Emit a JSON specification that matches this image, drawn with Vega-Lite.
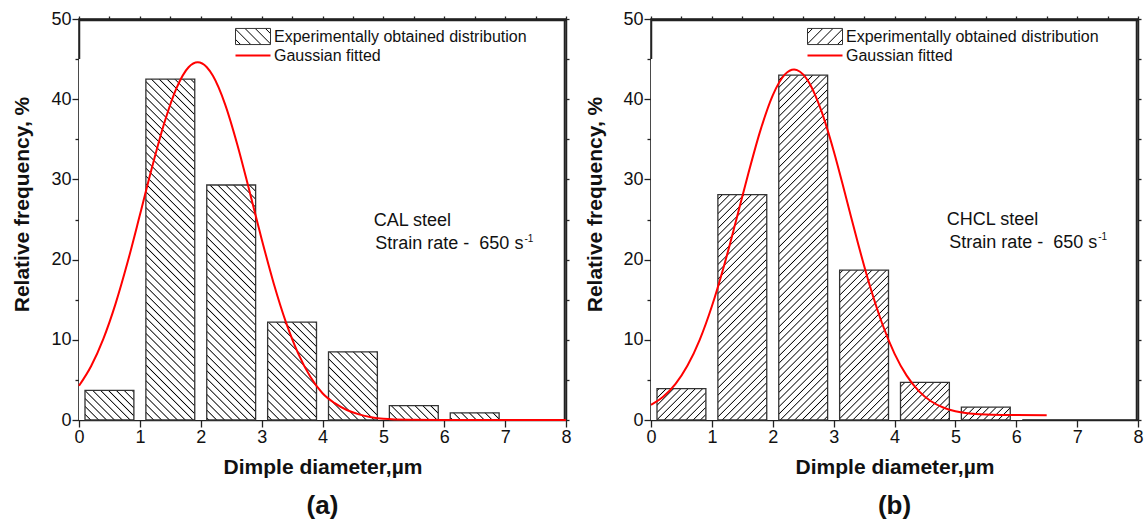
{
"$schema": "https://vega.github.io/schema/vega-lite/v6.json",
"background": "white",
"padding": {"left": 10, "top": 9, "right": 5, "bottom": 3},
"spacing": 11,
"config": {
  "view": {"stroke": "#222", "strokeWidth": 1.5},
  "axis": {"domainColor": "#222", "domainWidth": 1.5, "tickColor": "#222", "tickWidth": 1.3, "labelColor": "#111", "labelFont": "Liberation Sans", "labelFontSize": 18, "titleFont": "Liberation Sans", "titleFontSize": 21, "titleFontWeight": "bold", "titleColor": "#111", "grid": false, "zindex": 1, "labelPadding": 1, "labelFlush": false, "labelOverlap": false}
},
"datasets": {
  "barsA": [{"lo":0,"hi":1,"freq":3.7},{"lo":1,"hi":2,"freq":42.5},{"lo":2,"hi":3,"freq":29.3},{"lo":3,"hi":4,"freq":12.2},{"lo":4,"hi":5,"freq":8.5},{"lo":5,"hi":6,"freq":1.8},{"lo":6,"hi":7,"freq":0.9}],
  "barsB": [{"lo":0,"hi":1,"freq":3.9},{"lo":1,"hi":2,"freq":28.1},{"lo":2,"hi":3,"freq":43.0},{"lo":3,"hi":4,"freq":18.7},{"lo":4,"hi":5,"freq":4.7},{"lo":5,"hi":6,"freq":1.6}],
  "fitA": [{"x":0,"y":4.27},{"x":0.2,"y":6.74},{"x":0.4,"y":10.12},{"x":0.6,"y":14.48},{"x":0.8,"y":19.72},{"x":1.0,"y":25.55},{"x":1.2,"y":31.52},{"x":1.4,"y":37.0},{"x":1.6,"y":41.35},{"x":1.8,"y":43.98},{"x":1.95,"y":44.6},{"x":2.1,"y":43.98},{"x":2.2,"y":42.91},{"x":2.4,"y":39.36},{"x":2.6,"y":34.36},{"x":2.8,"y":28.55},{"x":3.0,"y":22.58},{"x":3.2,"y":17.0},{"x":3.4,"y":12.18},{"x":3.6,"y":8.31},{"x":3.8,"y":5.39},{"x":4.0,"y":3.33},{"x":4.2,"y":2.1},{"x":4.4,"y":1.25},{"x":4.6,"y":0.7},{"x":4.8,"y":0.35},{"x":5.0,"y":0.15},{"x":5.4,"y":0.03},{"x":6.0,"y":0},{"x":7.0,"y":0},{"x":8.0,"y":0}],
  "fitB": [{"x":0,"y":1.9},{"x":0.2,"y":2.9},{"x":0.4,"y":4.47},{"x":0.6,"y":6.79},{"x":0.8,"y":10.0},{"x":1.0,"y":14.18},{"x":1.2,"y":19.24},{"x":1.4,"y":24.93},{"x":1.6,"y":30.77},{"x":1.8,"y":36.18},{"x":2.0,"y":40.48},{"x":2.2,"y":43.09},{"x":2.35,"y":43.7},{"x":2.4,"y":43.63},{"x":2.6,"y":42.03},{"x":2.8,"y":38.51},{"x":3.0,"y":33.58},{"x":3.2,"y":27.87},{"x":3.4,"y":22.03},{"x":3.6,"y":16.61},{"x":3.8,"y":11.97},{"x":4.0,"y":8.28},{"x":4.2,"y":5.53},{"x":4.4,"y":3.6},{"x":4.6,"y":2.34},{"x":4.8,"y":1.56},{"x":5.0,"y":1.1},{"x":5.2,"y":0.85},{"x":5.4,"y":0.72},{"x":5.6,"y":0.65},{"x":6.0,"y":0.61},{"x":6.5,"y":0.6}]
},
"resolve": {"scale": {"x": "independent", "y": "independent", "stroke": "independent"}, "axis": {"x": "independent", "y": "independent"}, "legend": {"stroke": "independent"}},
"hconcat": [
{
  "width": 487, "height": 401,
  "title": {"text": "(a)", "orient": "bottom", "anchor": "middle", "frame": "group", "fontSize": 26, "fontWeight": "bold", "font": "Liberation Sans", "color": "#111", "offset": 16},
  "resolve": {"scale": {"x": "independent", "y": "independent"}},
  "layer": [
   {"layer": [
    {"data": {"values": [{}]},
     "mark": {"type": "rect", "strokeWidth": 0, "fill": {"gradient": "linear", "x1": 0, "y1": 1, "x2": 1.0755, "y2": 0.0891, "stops": [
{"offset":0.0035,"color":"#fff"},{"offset":0.005,"color":"#000"},{"offset":0.0065,"color":"#fff"},
{"offset":0.0135,"color":"#fff"},{"offset":0.015,"color":"#000"},{"offset":0.0165,"color":"#fff"},
{"offset":0.0235,"color":"#fff"},{"offset":0.025,"color":"#000"},{"offset":0.0265,"color":"#fff"},
{"offset":0.0335,"color":"#fff"},{"offset":0.035,"color":"#000"},{"offset":0.0365,"color":"#fff"},
{"offset":0.0435,"color":"#fff"},{"offset":0.045,"color":"#000"},{"offset":0.0465,"color":"#fff"},
{"offset":0.0535,"color":"#fff"},{"offset":0.055,"color":"#000"},{"offset":0.0565,"color":"#fff"},
{"offset":0.0635,"color":"#fff"},{"offset":0.065,"color":"#000"},{"offset":0.0665,"color":"#fff"},
{"offset":0.0735,"color":"#fff"},{"offset":0.075,"color":"#000"},{"offset":0.0765,"color":"#fff"},
{"offset":0.0835,"color":"#fff"},{"offset":0.085,"color":"#000"},{"offset":0.0865,"color":"#fff"},
{"offset":0.0935,"color":"#fff"},{"offset":0.095,"color":"#000"},{"offset":0.0965,"color":"#fff"},
{"offset":0.1035,"color":"#fff"},{"offset":0.105,"color":"#000"},{"offset":0.1065,"color":"#fff"},
{"offset":0.1135,"color":"#fff"},{"offset":0.115,"color":"#000"},{"offset":0.1165,"color":"#fff"},
{"offset":0.1235,"color":"#fff"},{"offset":0.125,"color":"#000"},{"offset":0.1265,"color":"#fff"},
{"offset":0.1335,"color":"#fff"},{"offset":0.135,"color":"#000"},{"offset":0.1365,"color":"#fff"},
{"offset":0.1435,"color":"#fff"},{"offset":0.145,"color":"#000"},{"offset":0.1465,"color":"#fff"},
{"offset":0.1535,"color":"#fff"},{"offset":0.155,"color":"#000"},{"offset":0.1565,"color":"#fff"},
{"offset":0.1635,"color":"#fff"},{"offset":0.165,"color":"#000"},{"offset":0.1665,"color":"#fff"},
{"offset":0.1735,"color":"#fff"},{"offset":0.175,"color":"#000"},{"offset":0.1765,"color":"#fff"},
{"offset":0.1835,"color":"#fff"},{"offset":0.185,"color":"#000"},{"offset":0.1865,"color":"#fff"},
{"offset":0.1935,"color":"#fff"},{"offset":0.195,"color":"#000"},{"offset":0.1965,"color":"#fff"},
{"offset":0.2035,"color":"#fff"},{"offset":0.205,"color":"#000"},{"offset":0.2065,"color":"#fff"},
{"offset":0.2135,"color":"#fff"},{"offset":0.215,"color":"#000"},{"offset":0.2165,"color":"#fff"},
{"offset":0.2235,"color":"#fff"},{"offset":0.225,"color":"#000"},{"offset":0.2265,"color":"#fff"},
{"offset":0.2335,"color":"#fff"},{"offset":0.235,"color":"#000"},{"offset":0.2365,"color":"#fff"},
{"offset":0.2435,"color":"#fff"},{"offset":0.245,"color":"#000"},{"offset":0.2465,"color":"#fff"},
{"offset":0.2535,"color":"#fff"},{"offset":0.255,"color":"#000"},{"offset":0.2565,"color":"#fff"},
{"offset":0.2635,"color":"#fff"},{"offset":0.265,"color":"#000"},{"offset":0.2665,"color":"#fff"},
{"offset":0.2735,"color":"#fff"},{"offset":0.275,"color":"#000"},{"offset":0.2765,"color":"#fff"},
{"offset":0.2835,"color":"#fff"},{"offset":0.285,"color":"#000"},{"offset":0.2865,"color":"#fff"},
{"offset":0.2935,"color":"#fff"},{"offset":0.295,"color":"#000"},{"offset":0.2965,"color":"#fff"},
{"offset":0.3035,"color":"#fff"},{"offset":0.305,"color":"#000"},{"offset":0.3065,"color":"#fff"},
{"offset":0.3135,"color":"#fff"},{"offset":0.315,"color":"#000"},{"offset":0.3165,"color":"#fff"},
{"offset":0.3235,"color":"#fff"},{"offset":0.325,"color":"#000"},{"offset":0.3265,"color":"#fff"},
{"offset":0.3335,"color":"#fff"},{"offset":0.335,"color":"#000"},{"offset":0.3365,"color":"#fff"},
{"offset":0.3435,"color":"#fff"},{"offset":0.345,"color":"#000"},{"offset":0.3465,"color":"#fff"},
{"offset":0.3535,"color":"#fff"},{"offset":0.355,"color":"#000"},{"offset":0.3565,"color":"#fff"},
{"offset":0.3635,"color":"#fff"},{"offset":0.365,"color":"#000"},{"offset":0.3665,"color":"#fff"},
{"offset":0.3735,"color":"#fff"},{"offset":0.375,"color":"#000"},{"offset":0.3765,"color":"#fff"},
{"offset":0.3835,"color":"#fff"},{"offset":0.385,"color":"#000"},{"offset":0.3865,"color":"#fff"},
{"offset":0.3935,"color":"#fff"},{"offset":0.395,"color":"#000"},{"offset":0.3965,"color":"#fff"},
{"offset":0.4035,"color":"#fff"},{"offset":0.405,"color":"#000"},{"offset":0.4065,"color":"#fff"},
{"offset":0.4135,"color":"#fff"},{"offset":0.415,"color":"#000"},{"offset":0.4165,"color":"#fff"},
{"offset":0.4235,"color":"#fff"},{"offset":0.425,"color":"#000"},{"offset":0.4265,"color":"#fff"},
{"offset":0.4335,"color":"#fff"},{"offset":0.435,"color":"#000"},{"offset":0.4365,"color":"#fff"},
{"offset":0.4435,"color":"#fff"},{"offset":0.445,"color":"#000"},{"offset":0.4465,"color":"#fff"},
{"offset":0.4535,"color":"#fff"},{"offset":0.455,"color":"#000"},{"offset":0.4565,"color":"#fff"},
{"offset":0.4635,"color":"#fff"},{"offset":0.465,"color":"#000"},{"offset":0.4665,"color":"#fff"},
{"offset":0.4735,"color":"#fff"},{"offset":0.475,"color":"#000"},{"offset":0.4765,"color":"#fff"},
{"offset":0.4835,"color":"#fff"},{"offset":0.485,"color":"#000"},{"offset":0.4865,"color":"#fff"},
{"offset":0.4935,"color":"#fff"},{"offset":0.495,"color":"#000"},{"offset":0.4965,"color":"#fff"},
{"offset":0.5035,"color":"#fff"},{"offset":0.505,"color":"#000"},{"offset":0.5065,"color":"#fff"},
{"offset":0.5135,"color":"#fff"},{"offset":0.515,"color":"#000"},{"offset":0.5165,"color":"#fff"},
{"offset":0.5235,"color":"#fff"},{"offset":0.525,"color":"#000"},{"offset":0.5265,"color":"#fff"},
{"offset":0.5335,"color":"#fff"},{"offset":0.535,"color":"#000"},{"offset":0.5365,"color":"#fff"},
{"offset":0.5435,"color":"#fff"},{"offset":0.545,"color":"#000"},{"offset":0.5465,"color":"#fff"},
{"offset":0.5535,"color":"#fff"},{"offset":0.555,"color":"#000"},{"offset":0.5565,"color":"#fff"},
{"offset":0.5635,"color":"#fff"},{"offset":0.565,"color":"#000"},{"offset":0.5665,"color":"#fff"},
{"offset":0.5735,"color":"#fff"},{"offset":0.575,"color":"#000"},{"offset":0.5765,"color":"#fff"},
{"offset":0.5835,"color":"#fff"},{"offset":0.585,"color":"#000"},{"offset":0.5865,"color":"#fff"},
{"offset":0.5935,"color":"#fff"},{"offset":0.595,"color":"#000"},{"offset":0.5965,"color":"#fff"}
]}},
     "encoding": {"x": {"datum": 0, "type": "quantitative", "scale": {"domain": [0, 8], "nice": false}}, "x2": {"datum": 7}, "y": {"datum": 0, "type": "quantitative", "scale": {"domain": [0, 50], "nice": false}}, "y2": {"datum": 45}}},
    {"data": {"name": "barsA"},
     "mark": {"type": "rect", "fill": "#fff", "strokeWidth": 0},
     "encoding": {"x": {"field": "lo", "type": "quantitative"}, "x2": {"field": "hi"}, "y": {"field": "freq", "type": "quantitative"}, "y2": {"datum": 45}}},
    {"data": {"name": "barsA"},
     "mark": {"type": "rect", "fill": "#fff", "strokeWidth": 0, "xOffset": -6, "x2Offset": 6, "clip": true},
     "encoding": {"x": {"field": "lo", "type": "quantitative"}, "x2": {"field": "lo"}, "y": {"datum": 0, "type": "quantitative"}, "y2": {"datum": 45}}},
    {"data": {"name": "barsA"},
     "mark": {"type": "rect", "fill": "#fff", "strokeWidth": 0, "xOffset": -6, "x2Offset": 6, "clip": true},
     "encoding": {"x": {"field": "hi", "type": "quantitative"}, "x2": {"field": "hi"}, "y": {"datum": 0, "type": "quantitative"}, "y2": {"datum": 45}}},
    {"data": {"name": "barsA"},
     "mark": {"type": "rect", "filled": false, "strokeWidth": 1.3, "xOffset": 6, "x2Offset": -6},
     "encoding": {
       "x": {"field": "lo", "type": "quantitative", "scale": {"domain": [0, 8], "nice": false},
             "axis": {"orient": "bottom", "values": [0,0.5,1,1.5,2,2.5,3,3.5,4,4.5,5,5.5,6,6.5,7,7.5,8], "labelExpr": "datum.value % 1 === 0 ? '' + datum.value : ''", "tickSize": {"condition": {"test": "datum.value % 1 !== 0", "value": 4}, "value": 7}, "title": "Dimple diameter,µm", "titlePadding": 10}},
       "x2": {"field": "hi"},
       "y": {"field": "freq", "type": "quantitative", "scale": {"domain": [0, 50], "nice": false},
             "axis": {"orient": "left", "values": [0,5,10,15,20,25,30,35,40,45,50], "labelExpr": "datum.value % 10 === 0 ? '' + datum.value : ''", "tickSize": {"condition": {"test": "datum.value % 10 !== 0", "value": 4}, "value": 7}, "title": "Relative frequency, %", "titleX": -51, "titleY": 185, "titleAngle": -90, "titleAlign": "center", "titleBaseline": "alphabetic"}},
       "y2": {"datum": 0},
       "stroke": {"datum": "Experimentally obtained distribution", "type": "nominal",
                  "scale": {"domain": ["Experimentally obtained distribution", "Gaussian fitted"], "range": ["#333333", "#ff0000"]},
                  "legend": {"title": null, "orient": "none", "legendX": 166, "legendY": 9.5, "padding": 0, "symbolSize": 1225, "rowPadding": -13, "labelOffset": 13, "labelFont": "Liberation Sans", "labelFontSize": 16, "labelColor": "#111", "labelLimit": 400,
                    "encode": {"symbols": {"update": {
                      "shape": {"signal": "datum.value === 'Gaussian fitted' ? 'stroke' : 'M-1,-0.46H1V0.46H-1Z'"},
                      "strokeWidth": {"signal": "datum.value === 'Gaussian fitted' ? 2 : 1"},
                      "fill": {"value": {"gradient": "linear", "x1": 0, "y1": 1, "x2": 1.2054, "y2": 0.449, "stops": [
                        {"offset":0.08,"color":"#fff"},{"offset":0.1,"color":"#000"},{"offset":0.12,"color":"#fff"},
                        {"offset":0.28,"color":"#fff"},{"offset":0.3,"color":"#000"},{"offset":0.32,"color":"#fff"},
                        {"offset":0.48,"color":"#fff"},{"offset":0.5,"color":"#000"},{"offset":0.52,"color":"#fff"},
                        {"offset":0.68,"color":"#fff"},{"offset":0.7,"color":"#000"},{"offset":0.72,"color":"#fff"},
                        {"offset":0.88,"color":"#fff"},{"offset":0.9,"color":"#000"},{"offset":0.92,"color":"#fff"}]}}
                    }}}}}
     }},
    {"data": {"values": [{}]},
     "mark": {"type": "text", "text": "CAL steel", "align": "left", "baseline": "middle", "fontSize": 18, "font": "Liberation Sans", "color": "#111"},
     "encoding": {"x": {"datum": 4.84, "type": "quantitative"}, "y": {"datum": 24.8, "type": "quantitative"}}},
    {"data": {"values": [{}]},
     "mark": {"type": "text", "text": "Strain rate - \u00a0650 s", "align": "right", "baseline": "middle", "fontSize": 18, "font": "Liberation Sans", "color": "#111"},
     "encoding": {"x": {"datum": 7.3, "type": "quantitative"}, "y": {"datum": 21.9, "type": "quantitative"}}},
    {"data": {"values": [{}]},
     "mark": {"type": "text", "text": "-1", "align": "left", "baseline": "middle", "dx": 1, "fontSize": 10, "font": "Liberation Sans", "color": "#111"},
     "encoding": {"x": {"datum": 7.3, "type": "quantitative"}, "y": {"datum": 22.6, "type": "quantitative"}}},
    {"data": {"values": [{}]},
     "mark": {"type": "rule", "color": "#222", "strokeWidth": 1.5},
     "encoding": {"x": {"datum": 0, "type": "quantitative"}, "x2": {"datum": 8}, "y": {"datum": 49.8, "type": "quantitative"}}},
    {"data": {"values": [{}]},
     "mark": {"type": "rule", "color": "#222", "strokeWidth": 1.5},
     "encoding": {"x": {"datum": 7.975, "type": "quantitative"}, "y": {"datum": 0, "type": "quantitative"}, "y2": {"datum": 50}}}
   ]},
   {"data": {"name": "fitA"},
    "mark": {"type": "line", "strokeWidth": 2, "interpolate": "monotone"},
    "encoding": {
      "x": {"field": "x", "type": "quantitative", "scale": {"domain": [0, 8], "nice": false}, "axis": {"orient": "top", "values": [0,0.5,1,1.5,2,2.5,3,3.5,4,4.5,5,5.5,6,6.5,7,7.5,8], "labels": false, "title": null, "tickSize": 3}},
      "y": {"field": "y", "type": "quantitative", "scale": {"domain": [0, 50], "nice": false}, "axis": {"orient": "right", "values": [0,5,10,15,20,25,30,35,40,45,50], "labels": false, "title": null, "tickSize": 3}},
      "stroke": {"datum": "Gaussian fitted", "type": "nominal"}
    }}
  ]
},
{
  "width": 487, "height": 401,
  "title": {"text": "(b)", "orient": "bottom", "anchor": "middle", "frame": "group", "fontSize": 26, "fontWeight": "bold", "font": "Liberation Sans", "color": "#111", "offset": 16},
  "resolve": {"scale": {"x": "independent", "y": "independent"}},
  "layer": [
   {"layer": [
    {"data": {"values": [{}]},
     "mark": {"type": "rect", "strokeWidth": 0, "fill": {"gradient": "linear", "x1": 0, "y1": 0, "x2": 1.0059, "y2": 0.9939, "stops": [
{"offset":0.1835,"color":"#fff"},{"offset":0.185,"color":"#000"},{"offset":0.1865,"color":"#fff"},
{"offset":0.1935,"color":"#fff"},{"offset":0.195,"color":"#000"},{"offset":0.1965,"color":"#fff"},
{"offset":0.2035,"color":"#fff"},{"offset":0.205,"color":"#000"},{"offset":0.2065,"color":"#fff"},
{"offset":0.2135,"color":"#fff"},{"offset":0.215,"color":"#000"},{"offset":0.2165,"color":"#fff"},
{"offset":0.2235,"color":"#fff"},{"offset":0.225,"color":"#000"},{"offset":0.2265,"color":"#fff"},
{"offset":0.2335,"color":"#fff"},{"offset":0.235,"color":"#000"},{"offset":0.2365,"color":"#fff"},
{"offset":0.2435,"color":"#fff"},{"offset":0.245,"color":"#000"},{"offset":0.2465,"color":"#fff"},
{"offset":0.2535,"color":"#fff"},{"offset":0.255,"color":"#000"},{"offset":0.2565,"color":"#fff"},
{"offset":0.2635,"color":"#fff"},{"offset":0.265,"color":"#000"},{"offset":0.2665,"color":"#fff"},
{"offset":0.2735,"color":"#fff"},{"offset":0.275,"color":"#000"},{"offset":0.2765,"color":"#fff"},
{"offset":0.2835,"color":"#fff"},{"offset":0.285,"color":"#000"},{"offset":0.2865,"color":"#fff"},
{"offset":0.2935,"color":"#fff"},{"offset":0.295,"color":"#000"},{"offset":0.2965,"color":"#fff"},
{"offset":0.3035,"color":"#fff"},{"offset":0.305,"color":"#000"},{"offset":0.3065,"color":"#fff"},
{"offset":0.3135,"color":"#fff"},{"offset":0.315,"color":"#000"},{"offset":0.3165,"color":"#fff"},
{"offset":0.3235,"color":"#fff"},{"offset":0.325,"color":"#000"},{"offset":0.3265,"color":"#fff"},
{"offset":0.3335,"color":"#fff"},{"offset":0.335,"color":"#000"},{"offset":0.3365,"color":"#fff"},
{"offset":0.3435,"color":"#fff"},{"offset":0.345,"color":"#000"},{"offset":0.3465,"color":"#fff"},
{"offset":0.3535,"color":"#fff"},{"offset":0.355,"color":"#000"},{"offset":0.3565,"color":"#fff"},
{"offset":0.3635,"color":"#fff"},{"offset":0.365,"color":"#000"},{"offset":0.3665,"color":"#fff"},
{"offset":0.3735,"color":"#fff"},{"offset":0.375,"color":"#000"},{"offset":0.3765,"color":"#fff"},
{"offset":0.3835,"color":"#fff"},{"offset":0.385,"color":"#000"},{"offset":0.3865,"color":"#fff"},
{"offset":0.3935,"color":"#fff"},{"offset":0.395,"color":"#000"},{"offset":0.3965,"color":"#fff"},
{"offset":0.4035,"color":"#fff"},{"offset":0.405,"color":"#000"},{"offset":0.4065,"color":"#fff"},
{"offset":0.4135,"color":"#fff"},{"offset":0.415,"color":"#000"},{"offset":0.4165,"color":"#fff"},
{"offset":0.4235,"color":"#fff"},{"offset":0.425,"color":"#000"},{"offset":0.4265,"color":"#fff"},
{"offset":0.4335,"color":"#fff"},{"offset":0.435,"color":"#000"},{"offset":0.4365,"color":"#fff"},
{"offset":0.4435,"color":"#fff"},{"offset":0.445,"color":"#000"},{"offset":0.4465,"color":"#fff"},
{"offset":0.4535,"color":"#fff"},{"offset":0.455,"color":"#000"},{"offset":0.4565,"color":"#fff"},
{"offset":0.4635,"color":"#fff"},{"offset":0.465,"color":"#000"},{"offset":0.4665,"color":"#fff"},
{"offset":0.4735,"color":"#fff"},{"offset":0.475,"color":"#000"},{"offset":0.4765,"color":"#fff"},
{"offset":0.4835,"color":"#fff"},{"offset":0.485,"color":"#000"},{"offset":0.4865,"color":"#fff"},
{"offset":0.4935,"color":"#fff"},{"offset":0.495,"color":"#000"},{"offset":0.4965,"color":"#fff"},
{"offset":0.5035,"color":"#fff"},{"offset":0.505,"color":"#000"},{"offset":0.5065,"color":"#fff"},
{"offset":0.5135,"color":"#fff"},{"offset":0.515,"color":"#000"},{"offset":0.5165,"color":"#fff"},
{"offset":0.5235,"color":"#fff"},{"offset":0.525,"color":"#000"},{"offset":0.5265,"color":"#fff"},
{"offset":0.5335,"color":"#fff"},{"offset":0.535,"color":"#000"},{"offset":0.5365,"color":"#fff"},
{"offset":0.5435,"color":"#fff"},{"offset":0.545,"color":"#000"},{"offset":0.5465,"color":"#fff"},
{"offset":0.5535,"color":"#fff"},{"offset":0.555,"color":"#000"},{"offset":0.5565,"color":"#fff"},
{"offset":0.5635,"color":"#fff"},{"offset":0.565,"color":"#000"},{"offset":0.5665,"color":"#fff"},
{"offset":0.5735,"color":"#fff"},{"offset":0.575,"color":"#000"},{"offset":0.5765,"color":"#fff"},
{"offset":0.5835,"color":"#fff"},{"offset":0.585,"color":"#000"},{"offset":0.5865,"color":"#fff"},
{"offset":0.5935,"color":"#fff"},{"offset":0.595,"color":"#000"},{"offset":0.5965,"color":"#fff"},
{"offset":0.6035,"color":"#fff"},{"offset":0.605,"color":"#000"},{"offset":0.6065,"color":"#fff"},
{"offset":0.6135,"color":"#fff"},{"offset":0.615,"color":"#000"},{"offset":0.6165,"color":"#fff"},
{"offset":0.6235,"color":"#fff"},{"offset":0.625,"color":"#000"},{"offset":0.6265,"color":"#fff"},
{"offset":0.6335,"color":"#fff"},{"offset":0.635,"color":"#000"},{"offset":0.6365,"color":"#fff"},
{"offset":0.6435,"color":"#fff"},{"offset":0.645,"color":"#000"},{"offset":0.6465,"color":"#fff"},
{"offset":0.6535,"color":"#fff"},{"offset":0.655,"color":"#000"},{"offset":0.6565,"color":"#fff"},
{"offset":0.6635,"color":"#fff"},{"offset":0.665,"color":"#000"},{"offset":0.6665,"color":"#fff"},
{"offset":0.6735,"color":"#fff"},{"offset":0.675,"color":"#000"},{"offset":0.6765,"color":"#fff"},
{"offset":0.6835,"color":"#fff"},{"offset":0.685,"color":"#000"},{"offset":0.6865,"color":"#fff"},
{"offset":0.6935,"color":"#fff"},{"offset":0.695,"color":"#000"},{"offset":0.6965,"color":"#fff"},
{"offset":0.7035,"color":"#fff"},{"offset":0.705,"color":"#000"},{"offset":0.7065,"color":"#fff"},
{"offset":0.7135,"color":"#fff"},{"offset":0.715,"color":"#000"},{"offset":0.7165,"color":"#fff"},
{"offset":0.7235,"color":"#fff"},{"offset":0.725,"color":"#000"},{"offset":0.7265,"color":"#fff"},
{"offset":0.7335,"color":"#fff"},{"offset":0.735,"color":"#000"},{"offset":0.7365,"color":"#fff"},
{"offset":0.7435,"color":"#fff"},{"offset":0.745,"color":"#000"},{"offset":0.7465,"color":"#fff"},
{"offset":0.7535,"color":"#fff"},{"offset":0.755,"color":"#000"},{"offset":0.7565,"color":"#fff"},
{"offset":0.7635,"color":"#fff"},{"offset":0.765,"color":"#000"},{"offset":0.7665,"color":"#fff"},
{"offset":0.7735,"color":"#fff"},{"offset":0.775,"color":"#000"},{"offset":0.7765,"color":"#fff"},
{"offset":0.7835,"color":"#fff"},{"offset":0.785,"color":"#000"},{"offset":0.7865,"color":"#fff"},
{"offset":0.7935,"color":"#fff"},{"offset":0.795,"color":"#000"},{"offset":0.7965,"color":"#fff"},
{"offset":0.8035,"color":"#fff"},{"offset":0.805,"color":"#000"},{"offset":0.8065,"color":"#fff"},
{"offset":0.8135,"color":"#fff"},{"offset":0.815,"color":"#000"},{"offset":0.8165,"color":"#fff"},
{"offset":0.8235,"color":"#fff"},{"offset":0.825,"color":"#000"},{"offset":0.8265,"color":"#fff"},
{"offset":0.8335,"color":"#fff"},{"offset":0.835,"color":"#000"},{"offset":0.8365,"color":"#fff"},
{"offset":0.8435,"color":"#fff"},{"offset":0.845,"color":"#000"},{"offset":0.8465,"color":"#fff"},
{"offset":0.8535,"color":"#fff"},{"offset":0.855,"color":"#000"},{"offset":0.8565,"color":"#fff"},
{"offset":0.8635,"color":"#fff"},{"offset":0.865,"color":"#000"},{"offset":0.8665,"color":"#fff"},
{"offset":0.8735,"color":"#fff"},{"offset":0.875,"color":"#000"},{"offset":0.8765,"color":"#fff"},
{"offset":0.8835,"color":"#fff"},{"offset":0.885,"color":"#000"},{"offset":0.8865,"color":"#fff"},
{"offset":0.8935,"color":"#fff"},{"offset":0.895,"color":"#000"},{"offset":0.8965,"color":"#fff"},
{"offset":0.9035,"color":"#fff"},{"offset":0.905,"color":"#000"},{"offset":0.9065,"color":"#fff"},
{"offset":0.9135,"color":"#fff"},{"offset":0.915,"color":"#000"},{"offset":0.9165,"color":"#fff"},
{"offset":0.9235,"color":"#fff"},{"offset":0.925,"color":"#000"},{"offset":0.9265,"color":"#fff"},
{"offset":0.9335,"color":"#fff"},{"offset":0.935,"color":"#000"},{"offset":0.9365,"color":"#fff"},
{"offset":0.9435,"color":"#fff"},{"offset":0.945,"color":"#000"},{"offset":0.9465,"color":"#fff"},
{"offset":0.9535,"color":"#fff"},{"offset":0.955,"color":"#000"},{"offset":0.9565,"color":"#fff"},
{"offset":0.9635,"color":"#fff"},{"offset":0.965,"color":"#000"},{"offset":0.9665,"color":"#fff"},
{"offset":0.9735,"color":"#fff"},{"offset":0.975,"color":"#000"},{"offset":0.9765,"color":"#fff"},
{"offset":0.9835,"color":"#fff"},{"offset":0.985,"color":"#000"},{"offset":0.9865,"color":"#fff"},
{"offset":0.9935,"color":"#fff"},{"offset":0.995,"color":"#000"},{"offset":0.9965,"color":"#fff"}
]}},
     "encoding": {"x": {"datum": 0, "type": "quantitative", "scale": {"domain": [0, 8], "nice": false}}, "x2": {"datum": 6}, "y": {"datum": 0, "type": "quantitative", "scale": {"domain": [0, 50], "nice": false}}, "y2": {"datum": 45}}},
    {"data": {"name": "barsB"},
     "mark": {"type": "rect", "fill": "#fff", "strokeWidth": 0},
     "encoding": {"x": {"field": "lo", "type": "quantitative"}, "x2": {"field": "hi"}, "y": {"field": "freq", "type": "quantitative"}, "y2": {"datum": 45}}},
    {"data": {"name": "barsB"},
     "mark": {"type": "rect", "fill": "#fff", "strokeWidth": 0, "xOffset": -6, "x2Offset": 6, "clip": true},
     "encoding": {"x": {"field": "lo", "type": "quantitative"}, "x2": {"field": "lo"}, "y": {"datum": 0, "type": "quantitative"}, "y2": {"datum": 45}}},
    {"data": {"name": "barsB"},
     "mark": {"type": "rect", "fill": "#fff", "strokeWidth": 0, "xOffset": -6, "x2Offset": 6, "clip": true},
     "encoding": {"x": {"field": "hi", "type": "quantitative"}, "x2": {"field": "hi"}, "y": {"datum": 0, "type": "quantitative"}, "y2": {"datum": 45}}},
    {"data": {"name": "barsB"},
     "mark": {"type": "rect", "filled": false, "strokeWidth": 1.3, "xOffset": 6, "x2Offset": -6},
     "encoding": {
       "x": {"field": "lo", "type": "quantitative", "scale": {"domain": [0, 8], "nice": false},
             "axis": {"orient": "bottom", "values": [0,0.5,1,1.5,2,2.5,3,3.5,4,4.5,5,5.5,6,6.5,7,7.5,8], "labelExpr": "datum.value % 1 === 0 ? '' + datum.value : ''", "tickSize": {"condition": {"test": "datum.value % 1 !== 0", "value": 4}, "value": 7}, "title": "Dimple diameter,µm", "titlePadding": 10}},
       "x2": {"field": "hi"},
       "y": {"field": "freq", "type": "quantitative", "scale": {"domain": [0, 50], "nice": false},
             "axis": {"orient": "left", "values": [0,5,10,15,20,25,30,35,40,45,50], "labelExpr": "datum.value % 10 === 0 ? '' + datum.value : ''", "tickSize": {"condition": {"test": "datum.value % 10 !== 0", "value": 4}, "value": 7}, "title": "Relative frequency, %", "titleX": -50, "titleY": 185, "titleAngle": -90, "titleAlign": "center", "titleBaseline": "alphabetic"}},
       "y2": {"datum": 0},
       "stroke": {"datum": "Experimentally obtained distribution", "type": "nominal",
                  "scale": {"domain": ["Experimentally obtained distribution", "Gaussian fitted"], "range": ["#333333", "#ff0000"]},
                  "legend": {"title": null, "orient": "none", "legendX": 166, "legendY": 9.5, "padding": 0, "symbolSize": 1225, "rowPadding": -13, "labelOffset": 13, "labelFont": "Liberation Sans", "labelFontSize": 16, "labelColor": "#111", "labelLimit": 400,
                    "encode": {"symbols": {"update": {
                      "shape": {"signal": "datum.value === 'Gaussian fitted' ? 'stroke' : 'M-1,-0.46H1V0.46H-1Z'"},
                      "strokeWidth": {"signal": "datum.value === 'Gaussian fitted' ? 2 : 1"},
                      "fill": {"value": {"gradient": "linear", "x1": 0, "y1": 0, "x2": 1.2054, "y2": 0.551, "stops": [
                        {"offset":0.08,"color":"#fff"},{"offset":0.1,"color":"#000"},{"offset":0.12,"color":"#fff"},
                        {"offset":0.28,"color":"#fff"},{"offset":0.3,"color":"#000"},{"offset":0.32,"color":"#fff"},
                        {"offset":0.48,"color":"#fff"},{"offset":0.5,"color":"#000"},{"offset":0.52,"color":"#fff"},
                        {"offset":0.68,"color":"#fff"},{"offset":0.7,"color":"#000"},{"offset":0.72,"color":"#fff"},
                        {"offset":0.88,"color":"#fff"},{"offset":0.9,"color":"#000"},{"offset":0.92,"color":"#fff"}]}}
                    }}}}}
     }},
    {"data": {"values": [{}]},
     "mark": {"type": "text", "text": "CHCL steel", "align": "left", "baseline": "middle", "fontSize": 18, "font": "Liberation Sans", "color": "#111"},
     "encoding": {"x": {"datum": 4.86, "type": "quantitative"}, "y": {"datum": 25.0, "type": "quantitative"}}},
    {"data": {"values": [{}]},
     "mark": {"type": "text", "text": "Strain rate - \u00a0650 s", "align": "right", "baseline": "middle", "fontSize": 18, "font": "Liberation Sans", "color": "#111"},
     "encoding": {"x": {"datum": 7.33, "type": "quantitative"}, "y": {"datum": 22.1, "type": "quantitative"}}},
    {"data": {"values": [{}]},
     "mark": {"type": "text", "text": "-1", "align": "left", "baseline": "middle", "dx": 1, "fontSize": 10, "font": "Liberation Sans", "color": "#111"},
     "encoding": {"x": {"datum": 7.33, "type": "quantitative"}, "y": {"datum": 22.8, "type": "quantitative"}}},
    {"data": {"values": [{}]},
     "mark": {"type": "rule", "color": "#222", "strokeWidth": 1.5},
     "encoding": {"x": {"datum": 0, "type": "quantitative"}, "x2": {"datum": 8}, "y": {"datum": 49.8, "type": "quantitative"}}},
    {"data": {"values": [{}]},
     "mark": {"type": "rule", "color": "#222", "strokeWidth": 1.5},
     "encoding": {"x": {"datum": 7.975, "type": "quantitative"}, "y": {"datum": 0, "type": "quantitative"}, "y2": {"datum": 50}}}
   ]},
   {"data": {"name": "fitB"},
    "mark": {"type": "line", "strokeWidth": 2, "interpolate": "monotone"},
    "encoding": {
      "x": {"field": "x", "type": "quantitative", "scale": {"domain": [0, 8], "nice": false}, "axis": {"orient": "top", "values": [0,0.5,1,1.5,2,2.5,3,3.5,4,4.5,5,5.5,6,6.5,7,7.5,8], "labels": false, "title": null, "tickSize": 3}},
      "y": {"field": "y", "type": "quantitative", "scale": {"domain": [0, 50], "nice": false}, "axis": {"orient": "right", "values": [0,5,10,15,20,25,30,35,40,45,50], "labels": false, "title": null, "tickSize": 3}},
      "stroke": {"datum": "Gaussian fitted", "type": "nominal"}
    }}
  ]
}
]
}
